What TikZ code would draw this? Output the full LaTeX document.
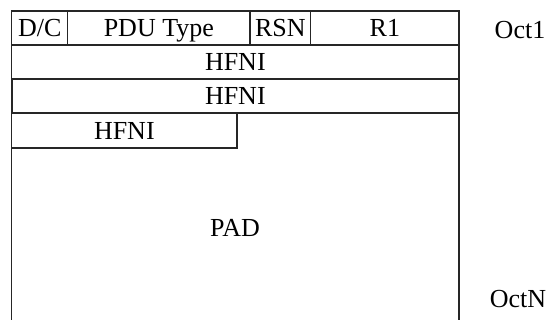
\documentclass[tikz,border=0pt]{standalone}
\usepackage{fontspec}
\setmainfont{Liberation Serif}
\usetikzlibrary{positioning}

\tikzset{
  cell/.style={draw=black!85, line width=0.6pt, inner sep=0pt, outer sep=0pt, anchor=north west,
    minimum height=17pt, text height=8.6pt, text depth=0pt, font=\fontsize{13}{15}\selectfont},
  txt/.style={inner sep=0pt, text height=8.6pt, text depth=0pt, font=\fontsize{13}{15}\selectfont}
}

\begin{document}
\begin{tikzpicture}[x=0.5pt,y=-0.5pt]
  \useasboundingbox (0,0) rectangle (547,320);
  % outer frame, open at the bottom
  \draw[black!85, line width=0.6pt] (11.7,320) -- (11.7,11) -- (459,11) -- (459,320);
  % first octet
  \node[cell, minimum width=28pt] (dc) at (11.7,11) {D/C};
  \node[cell, minimum width=91.15pt] (pdutype) at (dc.north east) {PDU Type};
  \node[cell, minimum width=30.35pt] (rsn) at (pdutype.north east) {RSN};
  \node[cell, minimum width=74.15pt] (rone) at (rsn.north east) {R1};
  % HFNI octets
  \node[cell, minimum width=223.65pt] (hfnia) at (dc.south west) {HFNI};
  \node[cell, minimum width=223.65pt, line width=1pt] (hfnib) at (hfnia.south west) {HFNI};
  \node[cell, minimum width=112.65pt, minimum height=17.5pt] (hfnic) at (hfnib.south west) {HFNI};
  % padding
  \node[txt] (pad) at (235,228) {PAD};
  % octet labels
  \node[txt] (octone) at (520,30) {Oct1};
  \node[txt] (octn) at (518,299) {OctN};
\end{tikzpicture}
\end{document}
